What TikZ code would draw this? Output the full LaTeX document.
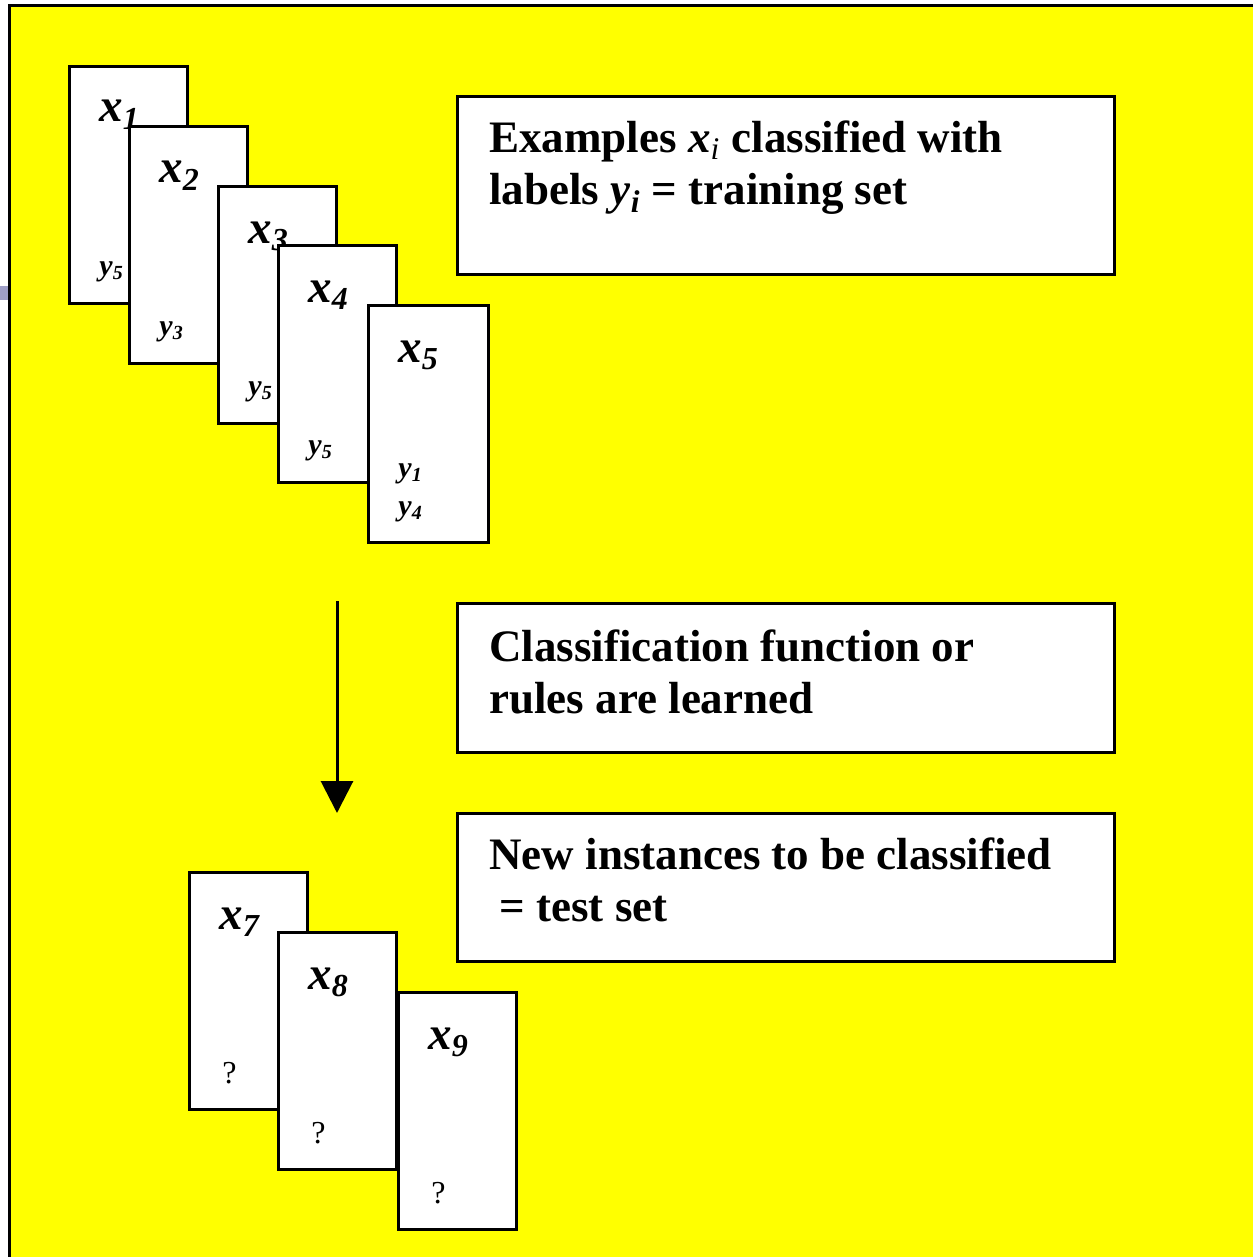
\documentclass[tikz,border=0pt]{standalone}
\usepackage{fontspec}
\setmainfont{Liberation Serif}
\usetikzlibrary{positioning,calc,arrows.meta}

\definecolor{bgyellow}{RGB}{255,255,0}
\newcommand{\xlab}[1]{\textbf{\textit{x}}\raisebox{-0.35ex}{\fontsize{16}{16}\selectfont\textbf{\textit{#1}}}}
\newcommand{\ylab}[1]{\textbf{\textit{y}}\raisebox{-0.3ex}{\fontsize{10}{10}\selectfont\textbf{\textit{#1}}}}

\begin{document}
\begin{tikzpicture}[x=0.5pt, y=-0.5pt,
    card/.style={draw, fill=white, line width=1.5pt, minimum width=59pt, minimum height=118.5pt, anchor=north west, inner sep=0pt},
    box/.style={draw, fill=white, line width=1.5pt, minimum width=328.5pt, anchor=north west, inner sep=0pt},
    xname/.style={anchor=base west, inner sep=0pt, font=\fontsize{23.5}{24}\selectfont},
    yname/.style={anchor=base west, inner sep=0pt, font=\fontsize{15}{15}\selectfont},
    qmark/.style={anchor=base west, inner sep=0pt, font=\fontsize{16}{16}\selectfont},
    boxtext/.style={anchor=base west, inner sep=0pt, align=left, font=\fontsize{22.5}{26}\selectfont\bfseries}]
    \useasboundingbox (0,0) rectangle (1253,1257);
    \fill[bgyellow] (9,6) rectangle (1253,1257);
    \draw[line width=1.5pt] (9,1257) -- (9,6) -- (1253,6);
    \fill[blue!25!gray!60] (0,286) rectangle (8,300);

    % training cards
    \node[card] (c1) at (68,65) {};
    \node[xname] (x1) at ($(c1.north west)+(31,57)$) {\xlab{1}};
    \node[yname] (y1) at ($(c1.north west)+(31,210)$) {\ylab{5}};
    \node[card] (c2) at (128,125) {};
    \node[xname] (x2) at ($(c2.north west)+(31,58)$) {\xlab{2}};
    \node[yname] (y2) at ($(c2.north west)+(31,210)$) {\ylab{3}};
    \node[card] (c3) at (217,185) {};
    \node[xname] (x3) at ($(c3.north west)+(31,58)$) {\xlab{3}};
    \node[yname] (y3) at ($(c3.north west)+(31,210)$) {\ylab{5}};
    \node[card] (c4) at (277,244) {};
    \node[xname] (x4) at ($(c4.north west)+(31,58)$) {\xlab{4}};
    \node[yname] (y4) at ($(c4.north west)+(31,210)$) {\ylab{5}};
    \node[card, minimum width=60pt] (c5) at (367,304) {};
    \node[xname] (x5) at ($(c5.north west)+(31,58)$) {\xlab{5}};
    \node[yname] (y5a) at ($(c5.north west)+(31,173)$) {\ylab{1}};
    \node[yname] (y5b) at ($(c5.north west)+(31,211)$) {\ylab{4}};

    % test cards
    \node[card] (c7) at (188,871) {};
    \node[xname] (x7) at ($(c7.north west)+(31,58)$) {\xlab{7}};
    \node[qmark] (q7) at ($(c7.north west)+(34,212)$) {?};
    \node[card] (c8) at (277,931) {};
    \node[xname] (x8) at ($(c8.north west)+(31,58)$) {\xlab{8}};
    \node[qmark] (q8) at ($(c8.north west)+(34,212)$) {?};
    \node[card] (c9) at (397,991) {};
    \node[xname] (x9) at ($(c9.north west)+(31,58)$) {\xlab{9}};
    \node[qmark] (q9) at ($(c9.north west)+(34,212)$) {?};

    % arrow
    \coordinate (astart) at (337,601);
    \coordinate (aend) at (337,813);
    \draw[line width=1.5pt, -{Triangle[width=16pt,length=16pt]}] (astart) -- (aend);

    % text boxes
    \node[box, minimum height=89pt] (b1) at (456,95) {};
    \node[boxtext] (t1) at ($(b1.north west)+(33,110)$) {Examples \textit{x}\textsubscript{\mdseries\textit{i}} classified with\\labels \textit{y}\textsubscript{\textit{i}} = training set};
    \node[box, minimum height=74.5pt] (b2) at (456,602) {};
    \node[boxtext] (t2) at ($(b2.north west)+(33,111)$) {Classification function or\\rules are learned};
    \node[box, minimum height=74pt] (b3) at (456,812) {};
    \node[boxtext] (t3) at ($(b3.north west)+(33,109)$) {New instances to be classified\\\hspace{5pt}= test set};
\end{tikzpicture}
\end{document}
